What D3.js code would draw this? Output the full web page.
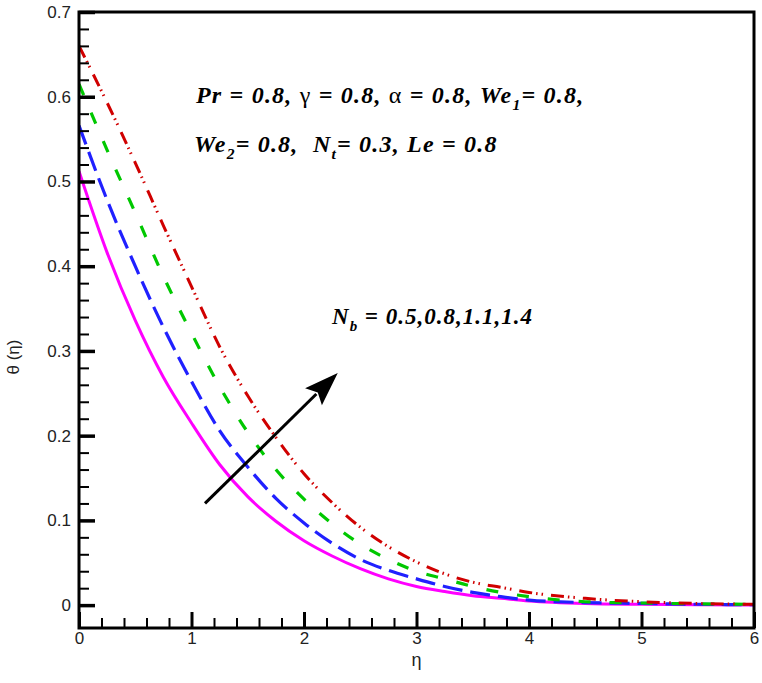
<!DOCTYPE html>
<html>
<head>
<meta charset="utf-8">
<script src="https://cdn.jsdelivr.net/npm/d3@7"></script>
<style>
  html, body { margin: 0; padding: 0; background: #fff; }
  svg { display: block; }
</style>
</head>
<body>
<svg id="chart" width="762" height="683"></svg>
<script>
// ---- data ----
const eta = [0, 0.25, 0.5, 0.75, 1.0, 1.25, 1.5, 1.75, 2.0, 2.25, 2.5, 2.75, 3.0, 3.25, 3.5, 3.75, 4.0, 4.5, 5.0, 5.5, 6.0];
const thetaNb05 = [0.512, 0.416, 0.336, 0.269, 0.215, 0.166, 0.128, 0.099, 0.076, 0.058, 0.043, 0.031, 0.022, 0.016, 0.011, 0.008, 0.005, 0.002, 0.001, 0.0004, 0.0];
const thetaNb08 = [0.566, 0.478, 0.400, 0.328, 0.264, 0.206, 0.163, 0.126, 0.097, 0.073, 0.054, 0.041, 0.031, 0.022, 0.015, 0.010, 0.006, 0.003, 0.002, 0.001, 0.0005];
const thetaNb11 = [0.615, 0.537, 0.463, 0.388, 0.321, 0.258, 0.204, 0.160, 0.125, 0.096, 0.072, 0.054, 0.040, 0.031, 0.022, 0.015, 0.010, 0.004, 0.0025, 0.0015, 0.001];
const thetaNb14 = [0.660, 0.593, 0.522, 0.448, 0.376, 0.305, 0.247, 0.198, 0.155, 0.121, 0.092, 0.069, 0.051, 0.037, 0.027, 0.021, 0.015, 0.008, 0.004, 0.002, 0.001];
const seriesNames = ["Nb = 0.5", "Nb = 0.8", "Nb = 1.1", "Nb = 1.4"];
const xTickLabels = [0, 1, 2, 3, 4, 5, 6];
const yTickLabels = [0, 0.1, 0.2, 0.3, 0.4, 0.5, 0.6, 0.7];
const arrowFrom = [1.12, 0.120];
const arrowTo = [2.30, 0.274];

// ---- layout ----
const mLeft = 79, mRight = 754, mTop = 12, mBottom = 628;
const svg = d3.select("#chart");

const x = d3.scaleLinear().domain([0, 6]).range([mLeft, mRight]);
const y = d3.scaleLinear().domain([-0.027, 0.7]).range([mBottom, mTop]);

const styles = [
  { color: "#ff00ff", width: 3, dash: null },
  { color: "#2020ff", width: 3.2, dash: "20,8" },
  { color: "#00c800", width: 3.2, dash: "12,19" },
  { color: "#d00000", width: 3, dash: "13,4,1.5,4,1.5,8" }
];
const allSeries = [thetaNb05, thetaNb08, thetaNb11, thetaNb14];

svg.append("defs").append("clipPath").attr("id", "clip")
  .append("rect").attr("x", mLeft).attr("y", mTop).attr("width", mRight - mLeft).attr("height", mBottom - mTop);

const line = d3.line()
  .x((d, i) => x(eta[i]))
  .y(d => y(d))
  .curve(d3.curveMonotoneX);

const g = svg.append("g").attr("clip-path", "url(#clip)");
allSeries.forEach((s, k) => {
  g.append("path")
    .datum(s)
    .attr("d", line)
    .attr("fill", "none")
    .attr("stroke", styles[k].color)
    .attr("stroke-width", styles[k].width)
    .attr("stroke-dasharray", styles[k].dash)
    .attr("stroke-linecap", "butt")
    .attr("stroke-linejoin", "round")
    .append("title").text(seriesNames[k]);
});

// ---- axes ----
const yMinor = d3.range(0, 0.7001, 0.02);
const xMinor = d3.range(0, 6.0001, 0.2);

svg.append("g").attr("transform", `translate(${mLeft},0)`)
  .call(d3.axisLeft(y).tickValues(yMinor).tickSizeInner(-10).tickSizeOuter(0).tickFormat(""))
  .call(a => a.select(".domain").remove())
  .call(a => a.selectAll("line").attr("stroke", "#000").attr("stroke-width", 2));

svg.append("g").attr("transform", `translate(${mLeft},0)`)
  .call(d3.axisLeft(y).tickValues(yTickLabels).tickSizeInner(-16).tickSizeOuter(0).tickPadding(8)
        .tickFormat(d => d === 0 ? "0" : d3.format(".1f")(d)))
  .call(a => a.select(".domain").remove())
  .call(a => a.selectAll("line").attr("stroke", "#000").attr("stroke-width", 3.5))
  .call(a => a.selectAll("text").attr("font-family", "Liberation Sans, Arial, sans-serif")
        .attr("font-size", 17).attr("fill", "#222"));

svg.append("g").attr("transform", `translate(0,${mBottom})`)
  .call(d3.axisBottom(x).tickValues(xMinor).tickSizeInner(-10).tickSizeOuter(0).tickFormat(""))
  .call(a => a.select(".domain").remove())
  .call(a => a.selectAll("line").attr("stroke", "#000").attr("stroke-width", 2));

svg.append("g").attr("transform", `translate(0,${mBottom})`)
  .call(d3.axisBottom(x).tickValues(xTickLabels).tickSizeInner(-16).tickSizeOuter(0).tickPadding(4)
        .tickFormat(d3.format("d")))
  .call(a => a.select(".domain").remove())
  .call(a => a.selectAll("line").attr("stroke", "#000").attr("stroke-width", 3))
  .call(a => a.selectAll("text").attr("font-family", "Liberation Sans, Arial, sans-serif")
        .attr("font-size", 17).attr("fill", "#222"));

// frame
svg.append("rect")
  .attr("x", mLeft).attr("y", mTop).attr("width", mRight - mLeft).attr("height", mBottom - mTop)
  .attr("fill", "none").attr("stroke", "#000").attr("stroke-width", 3);

// axis titles
svg.append("text")
  .attr("x", (mLeft + mRight) / 2).attr("y", 666)
  .attr("text-anchor", "middle")
  .attr("font-family", "Liberation Sans, Arial, sans-serif").attr("font-size", 18).attr("fill", "#222")
  .text("η");

svg.append("text")
  .attr("transform", "translate(19,357) rotate(-90)")
  .attr("text-anchor", "middle")
  .attr("font-family", "Liberation Sans, Arial, sans-serif").attr("font-size", 17).attr("fill", "#222")
  .text("θ (η)");

// ---- annotations ----
const serif = "Liberation Serif, Times New Roman, serif";
function richText(xp, yp, parts, size, spacing) {
  const t = svg.append("text").attr("x", xp).attr("y", yp)
    .attr("font-family", serif).attr("font-size", size)
    .attr("font-style", "italic").attr("font-weight", "bold").attr("fill", "#000")
    .attr("letter-spacing", spacing)
    .attr("xml:space", "preserve");
  parts.forEach(p => {
    const ts = t.append("tspan").text(p.t);
    if (p.sub) ts.attr("font-size", size * 0.65).attr("dy", size * 0.3);
    if (p.up) ts.attr("dy", -size * 0.3);
    if (p.normal) ts.attr("font-weight", "normal").attr("font-style", "normal");
  });
  return t;
}

richText(196, 103, [
  { t: "Pr = 0.8, " }, { t: "γ", normal: true }, { t: " = 0.8, " },
  { t: "α", normal: true }, { t: " = 0.8, We" }, { t: "1", sub: true }, { t: "= 0.8,", up: true }
], 24, 1.2);

richText(194, 152, [
  { t: "We" }, { t: "2", sub: true }, { t: "= 0.8,  N", up: true }, { t: "t", sub: true },
  { t: "= 0.3, Le = 0.8", up: true }
], 24, 1.2);

richText(332, 324, [
  { t: "N" }, { t: "b", sub: true }, { t: " = 0.5,0.8,1.1,1.4", up: true }
], 23, 1.0);

// arrow
const ax1 = x(arrowFrom[0]), ay1 = y(arrowFrom[1]);
const ax2 = x(arrowTo[0]), ay2 = y(arrowTo[1]);
const ang = Math.atan2(ay2 - ay1, ax2 - ax1);
const headLen = 34, headW = 12;
const bx = ax2 - headLen * Math.cos(ang), by = ay2 - headLen * Math.sin(ang);
svg.append("line")
  .attr("x1", ax1).attr("y1", ay1).attr("x2", bx + 4 * Math.cos(ang)).attr("y2", by + 4 * Math.sin(ang))
  .attr("stroke", "#000").attr("stroke-width", 3);
const px = -Math.sin(ang), py = Math.cos(ang);
svg.append("path")
  .attr("d", `M${ax2},${ay2} L${bx + headW * px},${by + headW * py} L${bx + 6 * Math.cos(ang)},${by + 6 * Math.sin(ang)} L${bx - headW * px},${by - headW * py} Z`)
  .attr("fill", "#000");
</script>
</body>
</html>
